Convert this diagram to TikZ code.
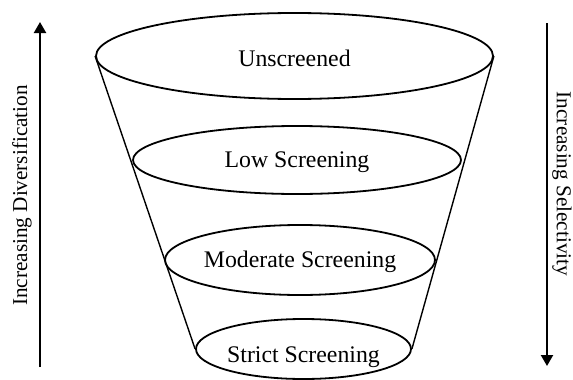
\documentclass[tikz,border=0pt]{standalone}
\usepackage{fontspec}
\setmainfont{Liberation Serif}
\usetikzlibrary{shapes.geometric,arrows.meta}
\tikzset{
  tier/.style={draw, ellipse, line width=0.9pt, inner sep=0pt},
  tierlabel/.style={anchor=base, inner sep=0pt, font=\fontsize{11.9}{14}\selectfont},
  sidelabel/.style={inner sep=0pt, font=\fontsize{10.6}{13}\selectfont},
  funnel/.style={line width=0.7pt},
  axis/.style={line width=1.1pt, -{Triangle[length=5.5pt,width=6pt]}}
}
\begin{document}
\begin{tikzpicture}[x=0.5pt,y=-0.5pt]
\useasboundingbox (0,0) rectangle (573,380);
\node[tier, minimum width=198.5pt, minimum height=43pt] (top) at (294.5,56) {};
\node[tier, minimum width=164pt, minimum height=34pt] (low) at (297,160) {};
\node[tier, minimum width=135pt, minimum height=35pt] (mod) at (300,260) {};
\node[tier, minimum width=107.5pt, minimum height=30pt] (strict) at (303.5,349) {};
\draw[funnel] (top.west) -- (strict.west);
\draw[funnel] (top.east) -- (strict.east);
\node[tierlabel] (tUn) at (294.5,66) {Unscreened};
\node[tierlabel] (tLow) at (297,167) {Low Screening};
\node[tierlabel] (tMod) at (300,267) {Moderate Screening};
\node[tierlabel] (tStr) at (303.5,362) {Strict Screening};
\coordinate (la) at (40,367);
\coordinate (lb) at (40,22);
\coordinate (ra) at (547,23);
\coordinate (rb) at (547,366);
\draw[axis] (la) -- (lb);
\draw[axis] (ra) -- (rb);
\node[sidelabel, rotate=90] (div) at (22,195.5) {Increasing Diversification};
\node[sidelabel, rotate=-90] (sel) at (562,184) {Increasing Selectivity};
\end{tikzpicture}
\end{document}
